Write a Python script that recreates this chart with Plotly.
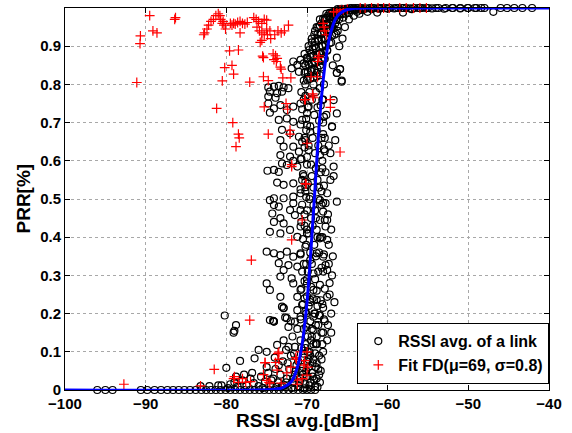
import plotly.graph_objects as go

# black circles: average RSSI of each link vs PRR
floor_x = [-96.0, -95.0, -94.1, -90.6, -89.8, -88.9, -88.1, -87.3, -86.6, -85.9, -85.2, -84.5, -83.8,
           -83.1, -82.5, -81.9, -81.3, -80.7, -80.1, -79.5, -78.9, -78.3, -77.7, -77.1, -76.5, -75.9,
           -75.3, -74.7, -74.1, -73.5, -72.9, -72.3, -71.7, -71.1, -70.5, -70.0, -69.5, -69.0]
floor_y = [0.0, 0.0, 0.0, 0.0, 0.0, 0.0, 0.0, 0.0, 0.0, 0.0, 0.0, 0.0, 0.0,
           0.0, 0.0, 0.0, 0.0, 0.0, 0.0, 0.0, 0.0, 0.0, 0.0, 0.0, 0.0, 0.0,
           0.0, 0.0, 0.0, 0.0, 0.0, 0.0, 0.0, 0.0, 0.0, 0.0, 0.0, 0.0]

low_x = [-83.2, -82.1, -81.0, -80.0, -78.3, -76.5, -79.5, -79.0, -78.6, -78.0, -77.5, -77.0, -76.6,
         -76.0, -75.7, -75.2, -74.8, -74.5, -74.2, -73.9, -73.6, -73.3, -73.0, -72.8, -72.5, -72.2,
         -72.0, -71.8, -71.5, -71.3, -71.0, -70.8, -70.6, -70.4, -70.2, -70.0, -69.8, -69.6, -69.4,
         -69.2, -69.0, -68.8, -68.6, -68.5, -69.9, -70.7, -71.6, -75.0, -74.0, -72.6, -76.8, -77.8,
         -78.8, -80.6, -79.8, -75.5, -73.8, -71.9, -70.3, -68.7, -68.9, -69.5, -72.9, -68.4, -68.3,
         -80.2, -78.8, -79.1, -79.0, -74.2, -72.9, -75.0, -72.7, -72.3, -71.2, -71.8, -72.0,
         -69.6, -69.0, -68.6, -68.2, -68.0, -70.8, -70.2, -69.6, -69.3, -68.8, -70.5, -70.0,
         -73.7, -72.3, -71.5, -76.0, -74.1, -69.0, -68.8,
         -74.4, -73.1, -72.4, -71.4, -70.9, -70.5, -69.7, -69.3, -68.9, -68.2, -71.1, -72.6,
         -73.5, -70.1, -69.1, -68.5, -71.7, -70.4, -69.8, -68.1]
low_y = [0.010, 0.010, 0.012, 0.058, 0.076, 0.083, 0.015, 0.020, 0.008, 0.025, 0.012, 0.030, 0.018,
         0.010, 0.035, 0.022, 0.045, 0.012, 0.030, 0.055, 0.020, 0.040, 0.075, 0.012, 0.030, 0.055,
         0.090, 0.020, 0.040, 0.065, 0.010, 0.030, 0.050, 0.085, 0.015, 0.035, 0.060, 0.020, 0.045,
         0.080, 0.010, 0.030, 0.055, 0.090, 0.100, 0.110, 0.095, 0.060, 0.085, 0.105, 0.045, 0.040,
         0.035, 0.012, 0.005, 0.005, 0.008, 0.005, 0.004, 0.008, 0.120, 0.130, 0.130, 0.020, 0.050,
         0.195, 0.170, 0.150, 0.155, 0.181, 0.215, 0.100, 0.190, 0.165, 0.160, 0.140, 0.180,
         0.230, 0.200, 0.170, 0.150, 0.215, 0.130, 0.110, 0.090, 0.070, 0.120, 0.060, 0.075,
         0.118, 0.113, 0.113, 0.105, 0.179, 0.096, 0.070,
         0.025, 0.010, 0.070, 0.050, 0.020, 0.040, 0.012, 0.035, 0.060, 0.080, 0.075, 0.020,
         0.065, 0.050, 0.025, 0.040, 0.030, 0.095, 0.080, 0.120]

mid_x = [-74.6, -74.1, -73.5, -74.3, -73.3, -71.7, -72.1, -71.5, -70.8, -69.6, -69.2, -68.4, -67.7,
         -66.3, -68.0, -67.5, -74.1, -72.9, -73.3, -72.1, -70.8, -74.6, -71.2, -70.0, -68.8, -67.7,
         -68.4, -67.5, -75.0, -74.1, -73.3, -72.5, -71.7, -70.8, -73.5, -72.3, -71.2, -69.6, -68.8,
         -68.0, -67.7, -69.2, -67.5, -72.9, -73.3, -71.9, -75.0, -74.6, -71.7, -70.8, -71.2, -70.0,
         -69.2, -68.8, -67.5, -69.6, -73.3, -73.1, -72.9, -70.6, -71.2, -74.6, -72.5, -71.5, -70.8,
         -69.2, -68.4, -69.2, -69.4, -68.8, -74.1,
         -71.7, -71.2, -70.8, -70.4, -70.0, -71.9, -71.0, -70.2, -74.8, -74.1, -73.5, -72.9, -72.3,
         -74.6, -73.7, -73.1, -74.8, -73.9, -74.8, -74.1, -74.6, -73.3, -72.5, -71.7, -70.8, -69.8,
         -73.5, -72.5, -71.7, -70.6, -70.0, -73.1, -72.1, -71.0, -70.2, -69.6, -73.3, -72.9, -71.7,
         -71.0, -69.8, -73.3, -72.1, -70.8, -73.1, -72.5, -71.7, -71.2, -74.1, -73.5, -74.9, -73.7,
         -72.9, -71.7, -70.6, -70.2, -74.1, -72.9, -71.7, -70.8,
         -66.7, -66.3, -66.9, -66.5, -67.1, -66.7, -67.1, -67.5, -68.0, -67.8, -68.1, -67.7, -68.2,
         -67.9, -68.0, -67.6, -67.9, -67.3, -67.2, -67.0, -67.8, -67.5, -68.0, -65.7, -66.3, -65.9]
mid_y = [0.497, 0.484, 0.480, 0.462, 0.450, 0.489, 0.471, 0.458, 0.471, 0.506, 0.484, 0.497, 0.489,
         0.493, 0.467, 0.445, 0.440, 0.436, 0.410, 0.419, 0.428, 0.414, 0.401, 0.410, 0.419, 0.428,
         0.397, 0.393, 0.362, 0.358, 0.353, 0.362, 0.349, 0.358, 0.332, 0.327, 0.323, 0.340, 0.358,
         0.349, 0.327, 0.305, 0.314, 0.314, 0.297, 0.292, 0.279, 0.262, 0.279, 0.262, 0.244, 0.279,
         0.262, 0.236, 0.244, 0.236, 0.244, 0.218, 0.214, 0.223, 0.209, 0.183, 0.188, 0.179, 0.192,
         0.192, 0.196, 0.157, 0.140, 0.122, 0.179,
         0.860, 0.851, 0.864, 0.855, 0.868, 0.842, 0.833, 0.833, 0.792, 0.794, 0.796, 0.792, 0.790,
         0.781, 0.777, 0.781, 0.768, 0.765, 0.750, 0.737, 0.726, 0.746, 0.733, 0.742, 0.750, 0.742,
         0.707, 0.711, 0.702, 0.707, 0.694, 0.681, 0.672, 0.663, 0.654, 0.676, 0.654, 0.637, 0.637,
         0.624, 0.628, 0.615, 0.611, 0.604, 0.593, 0.589, 0.600, 0.585, 0.576, 0.571, 0.574, 0.543,
         0.537, 0.541, 0.550, 0.531, 0.502, 0.502, 0.506, 0.515,
         0.759, 0.724, 0.689, 0.654, 0.620, 0.585, 0.550, 0.515, 0.700, 0.660, 0.600, 0.570, 0.520,
         0.800, 0.760, 0.720, 0.630, 0.380, 0.280, 0.200, 0.180, 0.130, 0.100, 0.807, 0.830, 0.840]

band_x = [-70.3, -69.8, -69.4, -69.0, -68.6, -68.2, -67.8, -67.4, -67.0, -66.5, -66.0, -65.5, -65.0,
          -64.5, -70.0, -69.5, -69.1, -68.7, -68.3, -67.9, -67.5, -67.1, -66.7, -66.3, -65.8, -69.9,
          -69.4, -69.0, -68.5, -68.1, -67.7, -67.3, -66.9, -66.5, -70.2, -69.7, -69.2, -68.8, -68.4,
          -67.9, -67.5, -67.0, -66.6, -66.2, -66.8, -66.3, -65.9, -65.7, -66.3, -66.0, -65.6, -65.3,
          -64.8, -64.2, -63.8, -63.2,
          -70.4, -69.9, -69.4, -68.9, -70.1, -69.6, -69.1, -68.7, -70.3, -69.8, -69.3, -68.8, -70.0,
          -69.5, -69.0, -68.6, -70.4, -69.9, -69.4, -68.9, -70.2, -69.7, -69.2, -68.7, -70.0, -69.5,
          -69.0, -68.6, -70.3, -69.8, -69.3, -68.9, -70.1, -69.6, -69.1, -68.7, -70.4, -69.9, -69.4,
          -68.9, -70.0, -69.5, -69.0, -68.6, -70.3, -69.8, -69.3, -68.8, -70.1, -69.6, -69.1, -68.7,
          -70.4, -69.9, -69.4, -68.9, -70.2, -69.7, -69.2, -68.8]
band_y = [0.880, 0.900, 0.920, 0.940, 0.950, 0.960, 0.970, 0.980, 0.985, 0.990, 0.995, 0.995, 0.998,
          1.000, 0.860, 0.880, 0.900, 0.920, 0.930, 0.950, 0.960, 0.970, 0.975, 0.980, 0.985, 0.820,
          0.840, 0.860, 0.880, 0.900, 0.920, 0.940, 0.950, 0.960, 0.800, 0.780, 0.800, 0.830, 0.850,
          0.870, 0.890, 0.910, 0.930, 0.940, 0.850, 0.870, 0.840, 0.810, 0.830, 0.900, 0.920, 0.950,
          0.970, 0.980, 0.990, 0.995,
          0.760, 0.740, 0.760, 0.780, 0.710, 0.690, 0.720, 0.740, 0.660, 0.640, 0.660, 0.680, 0.610,
          0.590, 0.620, 0.640, 0.560, 0.540, 0.560, 0.580, 0.520, 0.500, 0.530, 0.550, 0.470, 0.450,
          0.470, 0.500, 0.430, 0.410, 0.430, 0.450, 0.380, 0.360, 0.380, 0.400, 0.330, 0.310, 0.330,
          0.350, 0.290, 0.270, 0.290, 0.310, 0.240, 0.220, 0.240, 0.260, 0.200, 0.180, 0.200, 0.220,
          0.160, 0.140, 0.160, 0.170, 0.120, 0.100, 0.120, 0.140]

# the solid black arc near the curve
arc_x = [-66.2, -65.7, -65.2, -64.7, -64.2, -63.7, -63.2, -62.7, -62.2, -61.7, -61.2, -60.7, -60.2,
         -59.7, -59.2, -58.7, -58.2, -57.7, -57.2, -56.7, -56.2, -55.7, -55.2, -54.5, -53.7, -52.8,
         -51.9, -51.0, -50.1, -49.2, -48.4,
         -67.6, -67.2, -66.8, -66.4, -66.0, -65.6, -65.2, -64.8, -64.4, -64.0, -63.5, -63.0, -62.0, -61.0,
         -68.4, -68.0, -67.6, -67.2, -66.8, -66.4, -66.0, -65.6, -65.2, -64.8,
         -68.8, -68.4, -68.0, -67.6, -67.2, -66.8, -66.4, -66.0, -65.5,
         -69.1, -68.7, -68.3, -67.9, -67.5, -67.1, -66.7, -66.2,
         -69.4, -69.0, -68.6, -68.2, -67.8, -67.4, -66.9, -66.4,
         -69.7, -69.3, -68.9, -68.5, -68.1, -67.7, -67.2,
         -70.0, -69.6, -69.2, -68.8, -68.4, -68.0, -67.5,
         -70.2, -69.8, -69.4, -69.0, -68.6, -68.2, -67.8,
         -70.3, -69.9, -69.5, -69.1, -68.7, -68.3,
         -70.4, -70.0, -69.6, -69.2, -68.8, -68.4]
arc_y = [0.997, 0.998, 0.998, 0.999, 0.999, 1.000, 1.000, 0.999, 1.000, 1.000, 0.999, 1.000, 1.000,
         1.000, 0.999, 1.000, 1.000, 1.000, 0.999, 1.000, 1.000, 1.000, 1.000, 0.999, 1.000, 1.000,
         1.000, 0.999, 1.000, 1.000, 1.000,
         0.985, 0.987, 0.989, 0.990, 0.991, 0.992, 0.993, 0.994, 0.994, 0.995, 0.996, 0.996, 0.997, 0.998,
         0.970, 0.972, 0.974, 0.976, 0.978, 0.980, 0.982, 0.984, 0.985, 0.987,
         0.950, 0.953, 0.956, 0.959, 0.962, 0.965, 0.968, 0.971, 0.975,
         0.930, 0.932, 0.935, 0.938, 0.941, 0.944, 0.947, 0.952,
         0.910, 0.912, 0.915, 0.918, 0.921, 0.924, 0.928, 0.933,
         0.890, 0.892, 0.895, 0.898, 0.901, 0.904, 0.908,
         0.870, 0.872, 0.875, 0.878, 0.881, 0.884, 0.888,
         0.850, 0.852, 0.855, 0.858, 0.861, 0.864, 0.867,
         0.830, 0.832, 0.835, 0.838, 0.841, 0.844,
         0.810, 0.812, 0.815, 0.818, 0.821, 0.824]

# extra circles in the dense column and just right of the curve
col_x = [-70.7, -70.2, -68.4, -68.1, -70.6, -70.0, -68.3, -67.9, -70.8, -70.1, -68.5, -68.0,
         -70.6, -70.3, -68.2, -67.8, -70.7, -70.0, -68.4, -68.1, -70.5, -70.2, -68.3, -67.9,
         -70.8, -70.1, -68.5, -68.0, -70.6, -70.3, -68.2, -67.8, -70.7, -70.0, -68.4, -68.1,
         -70.5, -70.2, -68.3, -67.9, -70.8, -70.1, -68.5, -68.0, -70.6, -70.3, -68.2, -67.8,
         -70.7, -70.0, -68.4, -68.1, -70.5, -70.2, -68.3, -67.9, -70.8, -70.1, -68.5, -68.0,
         -67.4, -67.0, -66.8, -67.3, -66.9, -67.2, -66.6, -67.4, -67.0, -66.7, -67.3, -66.9]
col_y = [0.780, 0.770, 0.790, 0.760, 0.735, 0.725, 0.745, 0.715, 0.695, 0.680, 0.705, 0.670,
         0.650, 0.635, 0.660, 0.625, 0.605, 0.590, 0.615, 0.580, 0.565, 0.545, 0.570, 0.535,
         0.525, 0.505, 0.530, 0.490, 0.485, 0.460, 0.485, 0.445, 0.440, 0.420, 0.445, 0.400,
         0.395, 0.375, 0.400, 0.355, 0.355, 0.330, 0.360, 0.310, 0.310, 0.285, 0.320, 0.265,
         0.265, 0.245, 0.275, 0.225, 0.225, 0.205, 0.235, 0.185, 0.185, 0.165, 0.195, 0.150,
         0.460, 0.420, 0.350, 0.330, 0.300, 0.250, 0.230, 0.170, 0.150, 0.560, 0.640, 0.690]

top_x = [-64.0, -63.0, -62.0, -61.0, -60.0, -59.0, -58.0, -57.0, -56.0, -55.0, -54.0, -53.0, -52.0,
         -51.0, -50.0, -49.0, -48.0, -46.9, -46.0, -45.2, -44.3, -43.3, -42.1, -61.3, -58.1, -63.5, -62.5]
top_y = [1.000, 0.998, 1.000, 1.000, 0.998, 1.000, 1.000, 0.997, 1.000, 1.000, 1.000, 0.998, 1.000,
         1.000, 1.000, 1.000, 1.000, 0.990, 1.000, 1.000, 1.000, 1.000, 1.000, 0.988, 0.988, 0.985, 0.990]

# red crosses
fit_x = [-92.7, -91.1, -90.7, -90.65, -89.5, -89.1, -88.6, -86.3, -86.4, -82.8, -82.7, -82.4, -82.2,
         -81.9, -81.6, -81.3, -81.0, -80.8, -80.7, -80.5, -80.3, -80.1, -80.4, -79.5, -79.3, -79.1,
         -78.9, -78.6, -78.3, -78.0, -77.7, -77.4, -78.3, -79.6, -78.5, -80.2, -79.3, -79.1, -80.5,
         -77.1, -81.2, -79.2, -78.5, -78.4, -78.8,
         -76.6, -76.3, -76.0, -75.6, -75.3, -75.0, -76.2, -75.9, -75.6, -75.3, -75.0, -74.6, -75.8,
         -75.6, -74.9, -74.5, -74.0, -73.6, -73.2, -72.8, -72.3, -74.2, -73.9, -74.1, -73.7, -73.8,
         -75.5, -75.4, -73.3, -73.2, -75.4, -74.8, -73.0, -72.0, -75.3, -72.6, -72.4, -72.1, -72.1,
         -74.8, -71.9, -71.9, -70.0, -70.2, -70.1, -70.2,
         -68.0, -67.9, -67.8, -67.6, -68.6, -68.7, -68.5, -69.5, -68.7, -69.3, -69.2, -69.3, -70.3,
         -67.1, -67.1, -65.9, -66.7, -66.3, -65.9, -65.5, -65.0,
         -63.4, -62.8, -62.0, -61.2, -60.5, -59.8, -58.5, -57.7, -56.8, -56.0, -55.2,
         -70.6, -71.9, -76.9, -77.1, -73.5, -75.2, -73.9, -73.7, -72.5, -71.4, -71.3, -70.3, -70.4,
         -70.0, -71.2, -71.2, -79.1, -78.0, -77.6, -77.0, -75.4, -75.0, -74.7, -74.6, -73.2, -81.5,
         -83.2, -79.0, -78.5, -75.2, -73.6, -73.5, -72.0, -70.8, -70.0, -69.9, -70.6]
fit_y = [0.015, 0.805, 0.907, 0.927, 0.980, 0.940, 0.935, 0.975, 0.970, 0.930, 0.935, 0.945, 0.955,
         0.965, 0.970, 0.980, 0.985, 0.980, 0.970, 0.960, 0.955, 0.945, 0.965, 0.960, 0.955, 0.960,
         0.958, 0.962, 0.965, 0.960, 0.958, 0.962, 0.935, 0.888, 0.890, 0.844, 0.850, 0.827, 0.809,
         0.806, 0.737, 0.700, 0.670, 0.660, 0.637,
         0.975, 0.970, 0.965, 0.960, 0.970, 0.968, 0.950, 0.940, 0.935, 0.930, 0.945, 0.940, 0.910,
         0.915, 0.930, 0.920, 0.930, 0.940, 0.935, 0.940, 0.955, 0.880, 0.875, 0.865, 0.868, 0.860,
         0.874, 0.870, 0.845, 0.840, 0.820, 0.810, 0.817, 0.817, 0.741, 0.750, 0.735, 0.680, 0.670,
         0.670, 0.590, 0.585, 0.646, 0.760, 0.539, 0.540,
         0.960, 0.950, 0.940, 0.930, 0.870, 0.860, 0.875, 0.820, 0.820, 0.770, 0.765, 0.775, 0.760,
         0.760, 0.740, 0.623, 0.990, 0.990, 0.995, 0.995, 0.997,
         1.000, 1.000, 1.000, 1.000, 1.000, 1.000, 1.000, 1.000, 1.000, 1.000, 1.000,
         0.445, 0.393, 0.340, 0.183, 0.099, 0.072, 0.072, 0.052, 0.045, 0.085, 0.080, 0.077, 0.065,
         0.039, 0.026, 0.015, 0.030, 0.030, 0.020, 0.022, 0.040, 0.025, 0.020, 0.018, 0.018, 0.054,
         0.011, 0.035, 0.020, 0.071, 0.095, 0.080, 0.060, 0.100, 0.100, 0.060, 0.030]

# blue fitted curve
curve_x = [-100, -76, -74, -73, -72, -71.5, -71, -70.5, -70, -69.5, -69, -68.5, -68, -67.5, -67,
           -66.5, -66, -65, -64, -62, -40]
curve_y = [0.0, 0.0, 0.002, 0.006, 0.02, 0.04, 0.075, 0.135, 0.23, 0.37, 0.53, 0.69, 0.81, 0.89,
           0.94, 0.97, 0.984, 0.996, 0.999, 1.0, 1.0]

x_ticks = [-100, -90, -80, -70, -60, -50, -40]
x_labels = ["\u2212100", "\u221290", "\u221280", "\u221270", "\u221260", "\u221250", "\u221240"]
y_ticks = [0, 0.1, 0.2, 0.3, 0.4, 0.5, 0.6, 0.7, 0.8, 0.9, 1]
y_labels = ["0", "0.1", "0.2", "0.3", "0.4", "0.5", "0.6", "0.7", "0.8", "0.9", "1"]

link_x = floor_x + low_x + mid_x + band_x + arc_x + col_x + top_x
link_y = floor_y + low_y + mid_y + band_y + arc_y + col_y + top_y

font = "Liberation Sans"

fig = go.Figure()
fig.add_trace(go.Scatter(x=link_x, y=link_y, mode='markers', name='RSSI avg. of a link',
                         cliponaxis=False,
                         marker=dict(symbol='circle-open', size=7, color='black', line=dict(width=1.2))))
fig.add_trace(go.Scatter(x=fit_x, y=fit_y, mode='markers', name='Fit FD(\u03bc=69, \u03c3=0.8)',
                         cliponaxis=False,
                         marker=dict(symbol='cross-thin-open', size=7, color='red', line=dict(width=1.2, color='red'))))
fig.add_trace(go.Scatter(x=curve_x, y=curve_y, mode='lines', line=dict(color='blue', width=3, shape='spline'),
                         showlegend=False, cliponaxis=False))

axis_style = dict(showline=True, linecolor='black', linewidth=1, mirror='ticks', ticks='inside', ticklen=5,
                  tickcolor='black', showgrid=True, gridcolor='#a8a8a8', griddash='dot', gridwidth=1,
                  zeroline=False, automargin=False, tickmode='array',
                  tickfont=dict(family=font, size=15, color='black', weight='bold'))

fig.update_layout(
    width=572, height=433,
    margin=dict(l=65, r=23, t=8, b=43),
    paper_bgcolor='white', plot_bgcolor='white',
    font=dict(family=font, color='black'),
    xaxis=dict(range=[-100, -40], tickvals=x_ticks, ticktext=x_labels, **axis_style),
    yaxis=dict(range=[0, 1], tickvals=y_ticks, ticktext=y_labels, **axis_style),
    legend=dict(x=1, y=0.016, xanchor='right', yanchor='bottom', bgcolor='white',
                bordercolor='black', borderwidth=1.3,
                font=dict(family=font, size=16, color='black', weight='bold'),
                itemwidth=30, tracegroupgap=0),
    annotations=[
        dict(text='RSSI avg.[dBm]', x=0.5, y=0, xref='paper', yref='paper', xanchor='center', yanchor='top',
             yshift=-18, showarrow=False, font=dict(family=font, size=19, color='black', weight='bold')),
        dict(text='PRR[%]', x=0, y=0.5, xref='paper', yref='paper', xanchor='right', yanchor='middle',
             xshift=-30, textangle=-90, showarrow=False,
             font=dict(family=font, size=19, color='black', weight='bold')),
    ],
)

# the page's default body margin would shift the figure by 8px
fig.write_html("out.html", config={'displayModeBar': False},
               post_script="document.body.style.margin='0';")
